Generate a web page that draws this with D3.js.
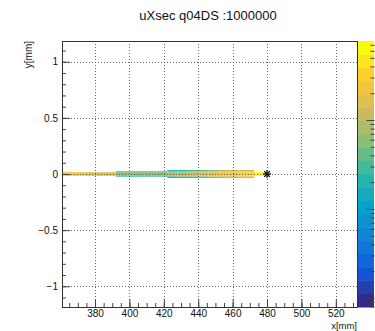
<!DOCTYPE html>
<html>
<head>
<meta charset="utf-8">
<script src="https://cdn.jsdelivr.net/npm/d3@7"></script>
<style>
body { margin: 0; background: #fff; }
svg text { font-family: "Liberation Sans", Arial, Helvetica, sans-serif; fill: #111; }
</style>
</head>
<body>
<div id="container"></div>
<script>
//2D histogram (COLZ style) with log colour palette

//x bin edges of the histogram (mm)
var xEdges = [360.8, 368, 376, 384, 392, 400, 408, 416, 422, 428, 434, 440, 446, 452, 458, 464, 472.5, 480];
//y half heights of the three row bands (mm)
var rowInner = 0.016, rowMid = 0.024, rowOuter = 0.036;
//bin contents for each row band, one per x bin (0 = empty)
var zInner = [210, 200, 195, 190, 55, 50, 52, 58, 80, 95, 115, 145, 175, 215, 255, 310, 550];
var zMid   = [0, 0, 0, 0, 26, 24, 26, 28, 45, 50, 65, 85, 110, 140, 180, 220, 0];
var zOuter = [0, 0, 0, 0, 0, 0, 0, 0, 20, 22, 32, 45, 60, 80, 110, 120, 0];

//marker point
var markX = [480], markY = [0];

//axis ticks
var xTicks = [380, 400, 420, 440, 460, 480, 500, 520];
var yTicks = [-1, -0.5, 0, 0.5, 1];
var zMajor = [1, 10, 100];

var xDomain = [360.8, 532.3], yDomain = [-1.185, 1.185], zDomain = [0.79, 773];
var nLevels = 20;

//kBird palette stops
var birdStops = [0, 0.125, 0.25, 0.375, 0.5, 0.625, 0.75, 0.875, 1];
var birdR = [0.2082, 0.0592, 0.0780, 0.0232, 0.1802, 0.5301, 0.8186, 0.9956, 0.9764];
var birdG = [0.1664, 0.3599, 0.5041, 0.6419, 0.7178, 0.7492, 0.7328, 0.7862, 0.9832];
var birdB = [0.5293, 0.8684, 0.8385, 0.7914, 0.6425, 0.4662, 0.3499, 0.1968, 0.0539];

(function(){
function bird(t){
    var rs = d3.scaleLinear().domain(birdStops).range(birdR).clamp(true);
    var gs = d3.scaleLinear().domain(birdStops).range(birdG).clamp(true);
    var bs = d3.scaleLinear().domain(birdStops).range(birdB).clamp(true);
    return d3.rgb(rs(t) * 255, gs(t) * 255, bs(t) * 255).toString();
}

var width = 375, height = 331;
var padL = 62, padR = 357, padT = 41, padB = 307;
var palX0 = 358, palX1 = 374;

var svg = d3.select("#container").append("svg")
    .attr("width", width)
    .attr("height", height);

svg.append("rect").attr("width", width).attr("height", height).attr("fill", "#fff");

var x = d3.scaleLinear().domain(xDomain).range([padL, padR]);
var y = d3.scaleLinear().domain(yDomain).range([padB, padT]);
var zLog = d3.scaleLog().domain(zDomain).range([0, 1]).clamp(true);
var zPal = d3.scaleLog().domain(zDomain).range([padB, padT]);

function levelColor(z){
    var lev = Math.min(nLevels - 1, Math.floor(zLog(z) * nLevels));
    return bird(lev / (nLevels - 1));
}

//build cells from the row arrays
var cells = [];
for (var i = 0; i < xEdges.length - 1; i++){
    var rows = [[zOuter[i], rowMid, rowOuter], [zMid[i], rowInner, rowMid], [zInner[i], -rowInner, rowInner]];
    rows.forEach(function(r, k){
        if (r[0] <= 0) return;
        cells.push({x0: xEdges[i], x1: xEdges[i + 1], y0: r[1], y1: r[2], z: r[0]});
        if (k < 2){
            cells.push({x0: xEdges[i], x1: xEdges[i + 1], y0: -r[2], y1: -r[1], z: r[0]});
        }
    });
}

svg.selectAll(".cell")
    .data(cells)
    .enter()
    .append("rect")
    .attr("class", "cell")
    .attr("x", function(d){ return x(d.x0); })
    .attr("width", function(d){ return x(d.x1) - x(d.x0); })
    .attr("y", function(d){ return y(d.y1); })
    .attr("height", function(d){ return y(d.y0) - y(d.y1); })
    .attr("fill", function(d){ return levelColor(d.z); });

//dotted grid
var grid = svg.append("g").attr("stroke", "#666").attr("stroke-width", 1).attr("stroke-dasharray", "1,2");
grid.selectAll(".gx").data(xTicks).enter().append("line")
    .attr("x1", function(d){ return Math.round(x(d)) + 0.5; })
    .attr("x2", function(d){ return Math.round(x(d)) + 0.5; })
    .attr("y1", padT).attr("y2", padB);
grid.selectAll(".gy").data(yTicks).enter().append("line")
    .attr("y1", function(d){ return Math.round(y(d)) + 0.5; })
    .attr("y2", function(d){ return Math.round(y(d)) + 0.5; })
    .attr("x1", padL).attr("x2", padR);

//star marker
var star = svg.selectAll(".mark").data(markX).enter().append("g")
    .attr("transform", function(d, i){ return "translate(" + x(d) + "," + y(markY[i]) + ")"; })
    .attr("stroke", "#000").attr("stroke-width", 1.2);
[0, 45, 90, 135].forEach(function(a){
    star.append("line").attr("x1", -4).attr("x2", 4).attr("transform", "rotate(" + a + ")");
});

//axes with inward ticks
var xMinor = d3.range(365, 531, 5);
var yMinor = d3.range(-11, 12).map(function(d){ return d / 10; });

function styleAxis(g){
    g.selectAll(".domain").remove();
    g.selectAll("line").attr("stroke", "#444");
    g.selectAll("text").style("font-size", "10px").attr("fill", "#111");
}

svg.append("g").attr("transform", "translate(0," + padB + ")")
    .call(d3.axisBottom(x).tickValues(xMinor).tickSize(-4).tickFormat(""))
    .call(styleAxis);
svg.append("g").attr("transform", "translate(0," + padB + ")")
    .call(d3.axisBottom(x).tickValues(xTicks).tickSize(-8).tickPadding(3).tickFormat(d3.format("d")))
    .call(styleAxis);
svg.append("g").attr("transform", "translate(" + padL + ",0)")
    .call(d3.axisLeft(y).tickValues(yMinor).tickSize(-4).tickFormat(""))
    .call(styleAxis);
svg.append("g").attr("transform", "translate(" + padL + ",0)")
    .call(d3.axisLeft(y).tickValues(yTicks).tickSize(-8).tickPadding(4)
        .tickFormat(function(d){ return d == 0 ? "0" : d3.format("")(d).replace("-", "\u2212"); }))
    .call(styleAxis);

//frame
svg.append("rect")
    .attr("x", padL + 0.5).attr("y", padT + 0.5)
    .attr("width", padR - padL).attr("height", padB - padT)
    .attr("fill", "none").attr("stroke", "#333").attr("stroke-width", 1);

//colour palette
var levels = d3.range(nLevels);
var levH = (padB - padT) / nLevels;
svg.selectAll(".pal").data(levels).enter().append("rect")
    .attr("x", palX0).attr("width", palX1 - palX0)
    .attr("y", function(d){ return padB - (d + 1) * levH; })
    .attr("height", levH + 0.5)
    .attr("fill", function(d){ return bird(d / (nLevels - 1)); });

var zMinor = [];
[0.1, 1, 10, 100].forEach(function(dec){
    d3.range(2, 10).forEach(function(m){ zMinor.push(dec * m); });
});
zMinor = zMinor.filter(function(d){ return d > zDomain[0] && d < zDomain[1]; });

svg.append("g").attr("transform", "translate(" + (palX1 + 0.5) + ",0)")
    .call(d3.axisRight(zPal).tickValues(zMinor).tickSize(-4).tickFormat(""))
    .call(styleAxis);
svg.append("g").attr("transform", "translate(" + (palX1 + 0.5) + ",0)")
    .call(d3.axisRight(zPal).tickValues(zMajor).tickSize(-8).tickFormat(""))
    .call(styleAxis);

//titles
svg.append("text")
    .attr("x", 208).attr("y", 20)
    .attr("text-anchor", "middle")
    .style("font-size", "13px")
    .text("uXsec q04DS :1000000");

svg.append("text")
    .attr("x", padR).attr("y", 329)
    .attr("text-anchor", "end")
    .style("font-size", "9.5px")
    .text("x[mm]");

svg.append("text")
    .attr("transform", "translate(32," + padT + ") rotate(-90)")
    .attr("text-anchor", "end")
    .style("font-size", "10px")
    .text("y[mm]");
})();
</script>
</body>
</html>
